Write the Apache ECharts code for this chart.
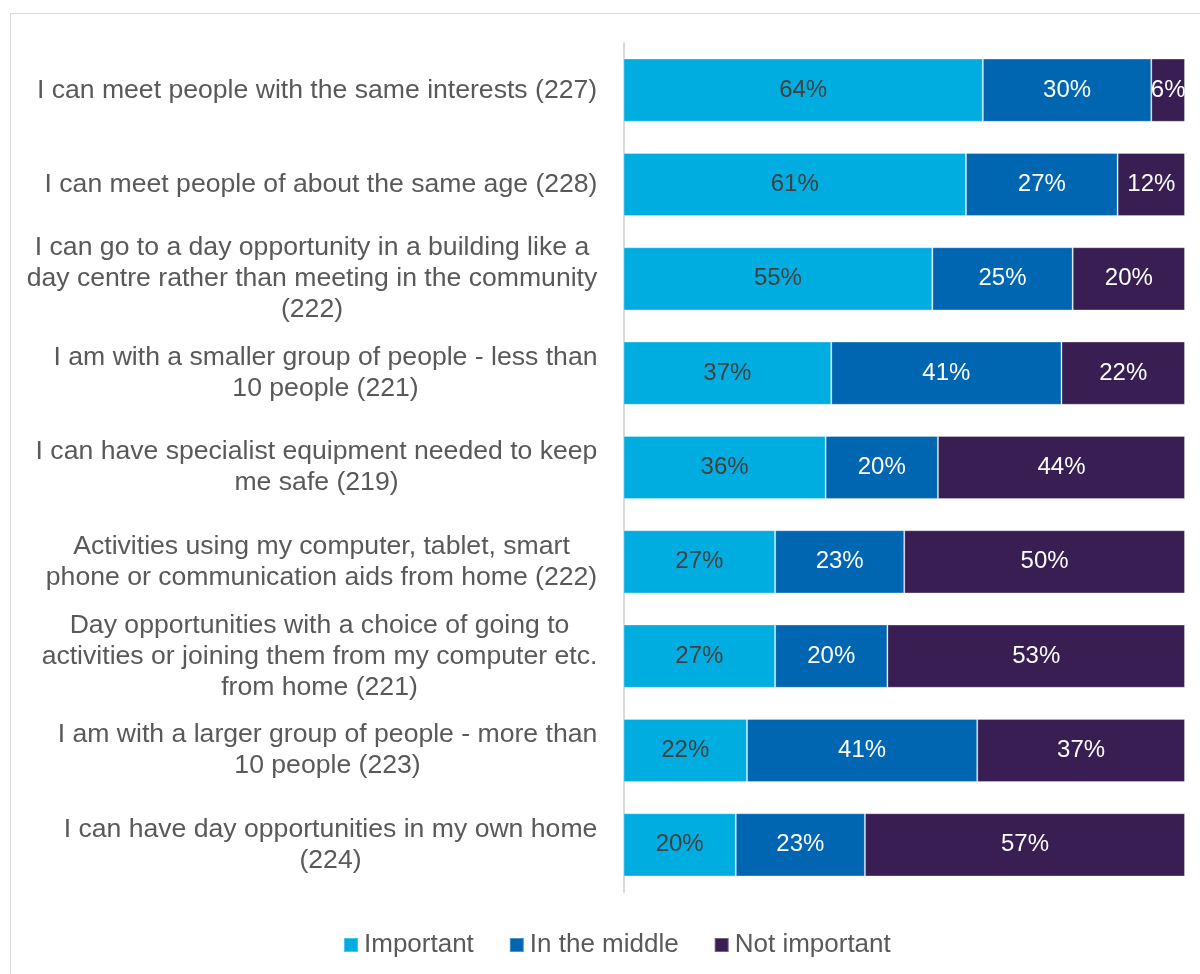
<!DOCTYPE html>
<html>
<head>
<meta charset="utf-8">
<script src="https://cdn.jsdelivr.net/npm/echarts@6/dist/echarts.min.js"></script>
<style>
  html, body { margin: 0; padding: 0; background: #fff; }
  #chart { width: 1200px; height: 974px; }
</style>
</head>
<body>
<div id="chart"></div>
<script>
// Statements, wrapped the way they are shown next to the bars
const categories = [
  'I can meet people with the same interests (227)',
  'I can meet people of about the same age (228)',
  'I can go to a day opportunity in a building like a\nday centre rather than meeting in the community\n(222)',
  'I am with a smaller group of people - less than\n10 people (221)',
  'I can have specialist equipment needed to keep\nme safe (219)',
  'Activities using my computer, tablet, smart\nphone or communication aids from home (222)',
  'Day opportunities with a choice of going to\nactivities or joining them from my computer etc.\nfrom home (221)',
  'I am with a larger group of people - more than\n10 people (223)',
  'I can have day opportunities in my own home\n(224)'
];

// Share of respondents (%)
const important    = [64, 61, 55, 37, 36, 27, 27, 22, 20];
const inTheMiddle  = [30, 27, 25, 41, 20, 23, 20, 41, 23];
const notImportant = [6, 12, 20, 22, 44, 50, 53, 37, 57];

const seriesNames = ['Important', 'In the middle', 'Not important'];

const FONT = '"Liberation Sans", Arial, sans-serif';
const CAT_SIZE = 26.6;

// Measure each label block so its lines can be centred within it
const measureCtx = document.createElement('canvas').getContext('2d');
measureCtx.font = CAT_SIZE + 'px ' + FONT;
const rich = {};
categories.forEach((c, i) => {
  const w = Math.max(...c.split('\n').map(l => measureCtx.measureText(l).width));
  rich['c' + i] = {
    width: Math.ceil(w) + 1,
    align: 'center',
    fontSize: CAT_SIZE,
    lineHeight: 31,
    fontFamily: FONT,
    color: '#595959'
  };
});

const chart = echarts.init(document.getElementById('chart'), null, { renderer: 'canvas' });

function barSeries(name, data, color, labelColor) {
  return {
    name: name,
    type: 'bar',
    stack: 'total',
    data: data,
    barCategoryGap: '33%',
    itemStyle: { color: color, borderColor: 'rgba(255,255,255,0.3)', borderWidth: 1 },
    label: {
      show: true,
      position: 'inside',
      formatter: '{c}%',
      color: labelColor,
      fontSize: 24,
      fontFamily: FONT
    },
    emphasis: { disabled: true }
  };
}

chart.setOption({
  animation: false,
  backgroundColor: '#ffffff',
  textStyle: { fontFamily: FONT },
  graphic: [{
    type: 'rect',
    shape: { x: 10.5, y: 13.5, width: 1300, height: 1100 },
    style: { fill: 'none', stroke: '#d9d9d9', lineWidth: 1 },
    silent: true,
    z: -1
  }],
  legend: {
    data: seriesNames,
    left: 338,
    top: 927,
    icon: 'rect',
    itemWidth: 14,
    itemHeight: 14,
    itemGap: 35,
    textStyle: { color: '#595959', fontSize: 26, fontFamily: FONT, padding: [0, 0, 0, 1] },
    selectedMode: false
  },
  grid: { left: 623.5, right: 15, top: 43, bottom: 82, containLabel: false },
  xAxis: {
    type: 'value',
    min: 0,
    max: 100,
    show: false
  },
  yAxis: {
    type: 'category',
    data: categories,
    inverse: true,
    offset: 1.5,
    axisLine: { show: true, lineStyle: { color: '#d9d9d9', width: 2 } },
    axisTick: { show: false },
    axisLabel: {
      margin: 24,
      align: 'right',
      formatter: (value, index) =>
        value.split('\n').map(l => '{c' + index + '|' + l + '}').join('\n'),
      rich: rich
    }
  },
  series: [
    barSeries(seriesNames[0], important, '#00ADE1', '#404040'),
    barSeries(seriesNames[1], inTheMiddle, '#0066B2', '#ffffff'),
    barSeries(seriesNames[2], notImportant, '#381E52', '#ffffff')
  ]
});
</script>
</body>
</html>
